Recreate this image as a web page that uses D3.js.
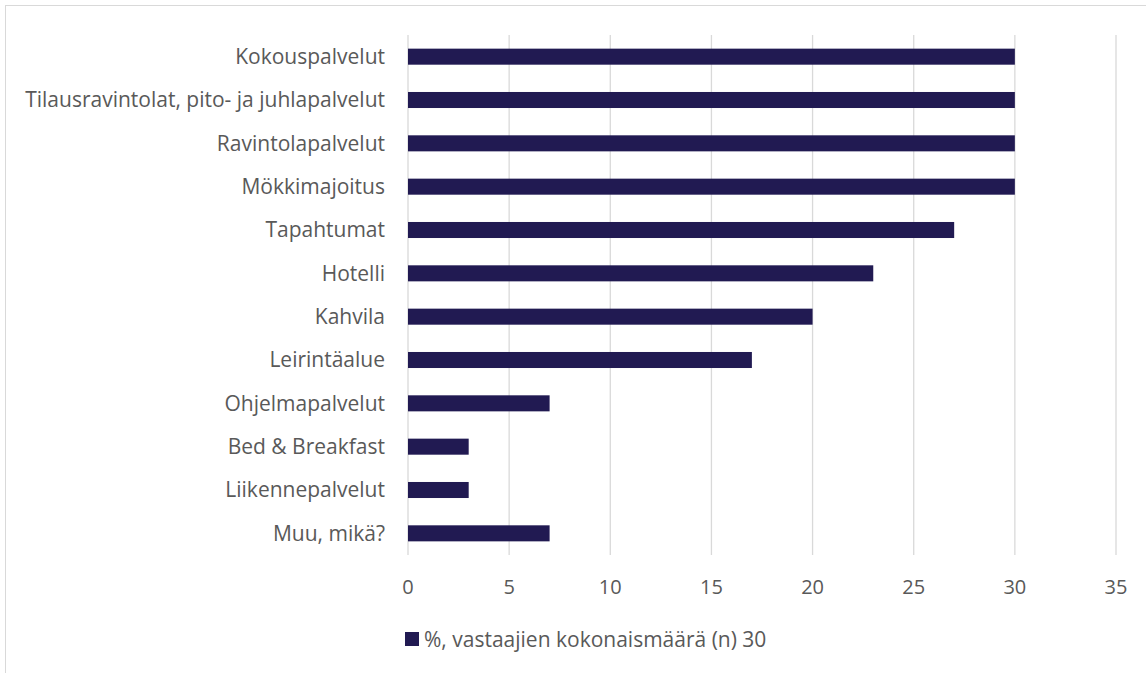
<!DOCTYPE html>
<html>
<head>
<meta charset="utf-8">
<script src="https://cdn.jsdelivr.net/npm/d3@7"></script>
<style>
  body { margin: 0; background: #fff; }
  text { font-family: "Open Sans", sans-serif; fill: #595959; }
</style>
</head>
<body>
<svg id="chart" width="1146" height="673"></svg>
<script>
var categories = ['Kokouspalvelut', 'Tilausravintolat, pito- ja juhlapalvelut', 'Ravintolapalvelut',
  'Mökkimajoitus', 'Tapahtumat', 'Hotelli', 'Kahvila', 'Leirintäalue', 'Ohjelmapalvelut',
  'Bed & Breakfast', 'Liikennepalvelut', 'Muu, mikä?'];
var values = [30, 30, 30, 30, 27, 23, 20, 17, 7, 3, 3, 7];
var xTicks = [0, 5, 10, 15, 20, 25, 30, 35];
var seriesName = '%, vastaajien kokonaismäärä (n) 30';

var svg = d3.select('#chart');
var barColor = '#211a52';

// outer frame (cropped on right/bottom)
svg.append('rect')
  .attr('x', 5.5).attr('y', 5.5)
  .attr('width', 1160).attr('height', 700)
  .attr('fill', 'none').attr('stroke', '#d9d9d9');

var x = d3.scaleLinear().domain([0, 35]).range([408, 1116]);
var y = d3.scaleBand().domain(categories).range([35, 555]).paddingInner(0.63).paddingOuter(0.315);

svg.append('g').selectAll('line')
  .data(xTicks)
  .enter()
  .append('line')
  .attr('x1', function (d) { return x(d); })
  .attr('x2', function (d) { return x(d); })
  .attr('y1', 35).attr('y2', 555)
  .attr('stroke', '#d9d9d9').attr('stroke-width', 1.3);

svg.append('g').selectAll('rect')
  .data(values)
  .enter()
  .append('rect')
  .attr('x', x(0))
  .attr('y', function (d, i) { return y(categories[i]); })
  .attr('width', function (d) { return x(d) - x(0); })
  .attr('height', y.bandwidth())
  .attr('fill', barColor);

svg.append('g').selectAll('text')
  .data(categories)
  .enter()
  .append('text')
  .attr('x', 385)
  .attr('y', function (d) { return y(d) + y.bandwidth() / 2; })
  .attr('dy', '0.35em')
  .attr('text-anchor', 'end')
  .attr('font-size', 21)
  .text(function (d) { return d; });

svg.append('g').selectAll('text')
  .data(xTicks)
  .enter()
  .append('text')
  .attr('x', function (d) { return x(d); })
  .attr('y', 587)
  .attr('dy', '0.35em')
  .attr('text-anchor', 'middle')
  .attr('font-size', 20)
  .text(function (d) { return d; });

// legend
var legend = svg.append('g').attr('transform', 'translate(405,632)');
legend.append('rect').attr('width', 14).attr('height', 14).attr('fill', barColor);
legend.append('text')
  .attr('x', 19).attr('y', 8).attr('dy', '0.35em')
  .attr('font-size', 21)
  .text(seriesName);
</script>
</body>
</html>
